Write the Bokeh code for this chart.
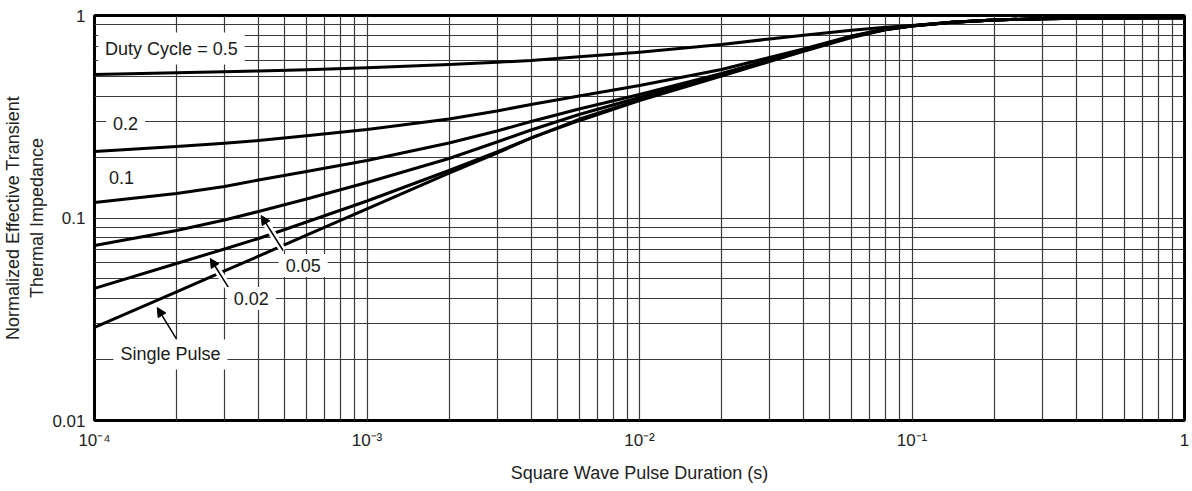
import math
from bokeh.plotting import figure
from bokeh.models import (FixedTicker, CustomJSTickFormatter, Label, Arrow,
                          NormalHead, Range1d)
from bokeh.embed import file_html
from bokeh.resources import INLINE

# ---- data ----
duration = [1e-4, 2e-4, 3e-4, 4e-4, 6e-4, 1e-3, 2e-3, 3e-3, 4e-3, 6e-3, 1e-2,
            2e-2, 3e-2, 4e-2, 6e-2, 8e-2, 1e-1, 1.4e-1, 2e-1, 3e-1, 5e-1, 1.0]
z_d050 = [0.5111, 0.5211, 0.5272, 0.5320, 0.5400, 0.5524, 0.5728, 0.5874, 0.5995, 0.6252, 0.6579,
          0.7191, 0.7655, 0.7993, 0.8461, 0.8744, 0.8925, 0.9250, 0.9512, 0.9632, 0.9709, 0.9742]
z_d020 = [0.2130, 0.2254, 0.2338, 0.2413, 0.2546, 0.2735, 0.3082, 0.3376, 0.3635, 0.4004, 0.4512,
          0.5412, 0.6203, 0.6833, 0.7921, 0.8577, 0.8905, 0.9250, 0.9512, 0.9632, 0.9709, 0.9742]
z_d010 = [0.1193, 0.1321, 0.1430, 0.1540, 0.1697, 0.1923, 0.2345, 0.2689, 0.2996, 0.3453, 0.4073,
          0.5170, 0.6029, 0.6715, 0.7894, 0.8548, 0.8895, 0.9250, 0.9512, 0.9632, 0.9709, 0.9742]
z_d005 = [0.0731, 0.0867, 0.0978, 0.1077, 0.1241, 0.1497, 0.1967, 0.2372, 0.2720, 0.3244, 0.3936,
          0.5101, 0.6009, 0.6725, 0.7867, 0.8528, 0.8885, 0.9250, 0.9512, 0.9632, 0.9709, 0.9742]
z_d002 = [0.0449, 0.0596, 0.0703, 0.0792, 0.0956, 0.1213, 0.1716, 0.2118, 0.2483, 0.3072, 0.3834,
          0.5078, 0.5981, 0.6701, 0.7849, 0.8528, 0.8885, 0.9250, 0.9512, 0.9632, 0.9709, 0.9742]
z_single = [0.0288, 0.0432, 0.0548, 0.0648, 0.0822, 0.1110, 0.1666, 0.2094, 0.2486, 0.3023, 0.3796,
            0.5026, 0.5920, 0.6648, 0.7787, 0.8508, 0.8875, 0.9245, 0.9512, 0.9632, 0.9709, 0.9742]

series = [z_d050, z_d020, z_d010, z_d005, z_d002, z_single]

x_major = [1e-4, 1e-3, 1e-2, 1e-1, 1.0]
y_major = [0.01, 0.1, 1.0]

FONT = "Liberation Sans"
GRID = "#3a3a3a"

p = figure(width=1192, height=491, x_axis_type="log", y_axis_type="log",
           x_range=Range1d(1e-4, 1.0), y_range=Range1d(0.01, 1.0),
           output_backend="svg", toolbar_location=None,
           min_border_left=93, min_border_right=8, min_border_top=15,
           min_border_bottom=71)

x_minor = [m * 10.0 ** k for k in range(-4, 0) for m in range(2, 10)]
y_minor = [m * 10.0 ** k for k in range(-2, 0) for m in range(2, 10)]
xt = FixedTicker(ticks=x_major, minor_ticks=x_minor)
yt = FixedTicker(ticks=y_major, minor_ticks=y_minor)
p.xaxis.ticker = xt
p.yaxis.ticker = yt
p.xgrid.ticker = xt
p.ygrid.ticker = yt

for g in (p.xgrid, p.ygrid):
    g.grid_line_color = GRID
    g.grid_line_width = 1.2
    g.minor_grid_line_color = GRID
    g.minor_grid_line_width = 1.2

p.outline_line_color = "black"
p.outline_line_width = 3
p.background_fill_color = "white"
p.border_fill_color = "white"

p.xaxis.formatter = CustomJSTickFormatter(code="""
const e = Math.round(Math.log10(tick));
if (e === 0) return "1";
const m = {"0":"\\u2070","1":"\\u00B9","2":"\\u00B2","3":"\\u00B3","4":"\\u2074","-":"\\u207B"};
return "10" + String(e).split("").map(c => m[c]).join("");
""")
p.yaxis.formatter = CustomJSTickFormatter(code="""
const e = Math.round(Math.log10(tick));
return Math.pow(10, e).toFixed(Math.max(0, -e));
""")

for ax in (p.xaxis, p.yaxis):
    ax.axis_line_color = None
    ax.major_tick_line_color = None
    ax.minor_tick_line_color = None
    ax.major_tick_out = 0
    ax.major_tick_in = 0
    ax.minor_tick_out = 0
    ax.minor_tick_in = 0
    ax.major_label_text_font = FONT
    ax.major_label_text_font_size = "17px"
    ax.major_label_text_color = "#222222"
    ax.axis_label_text_font = FONT
    ax.axis_label_text_font_size = "18px"
    ax.axis_label_text_font_style = "normal"
    ax.axis_label_text_color = "#222222"

p.xaxis.axis_label = "Square Wave Pulse Duration (s)"
p.xaxis.major_label_standoff = 10
p.xaxis.axis_label_standoff = 10
p.yaxis.axis_label = "Normalized Effective Transient\nThermal Impedance"
p.yaxis.major_label_standoff = 9
p.yaxis.axis_label_standoff = 2

for s in series:
    p.line(duration, s, line_color="black", line_width=3, line_join="round")


def lerp_log(a, b, t):
    return 10 ** (math.log10(a) + t * (math.log10(b) - math.log10(a)))


# arrows: (x_start, y_start, x_end, y_end, white_gap)
arrows = [
    (4.92e-4, 0.0691, 4.09e-4, 0.1028, True),
    (3.10e-4, 0.0454, 2.66e-4, 0.0631, True),
    (1.995e-4, 0.0254, 1.70e-4, 0.0361, False),
]
for xs, ys, xe, ye, gap in arrows:
    if gap:
        p.add_layout(Arrow(end=None, x_start=xs, y_start=ys,
                           x_end=lerp_log(xs, xe, 0.72), y_end=lerp_log(ys, ye, 0.72),
                           line_color="white", line_width=7))
    p.add_layout(Arrow(end=NormalHead(size=9, fill_color="black", line_color="black",
                                      line_width=1),
                       x_start=xs, y_start=ys, x_end=xe, y_end=ye,
                       line_color="black", line_width=1.5))

labels = [
    ("Duty Cycle = 0.5", 1.915e-4, 0.687, 7, 6),
    ("0.2", 1.30e-4, 0.293, 7, 4),
    ("0.1", 1.256e-4, 0.158, 5, 4),
    ("0.05", 5.83e-4, 0.0582, 7, 5),
    ("0.02", 3.76e-4, 0.0400, 7, 5),
    ("Single Pulse", 1.90e-4, 0.0212, 7, 5),
]
for txt, lx, ly, padx, pady in labels:
    p.add_layout(Label(x=lx, y=ly, text=txt, text_align="center",
                       text_baseline="middle", text_font=FONT,
                       text_font_size="18px", text_color="#1a1a1a",
                       background_fill_color="white", padding=(padx, pady)))

open("out.html", "w", encoding="utf-8").write(file_html(p, INLINE))
